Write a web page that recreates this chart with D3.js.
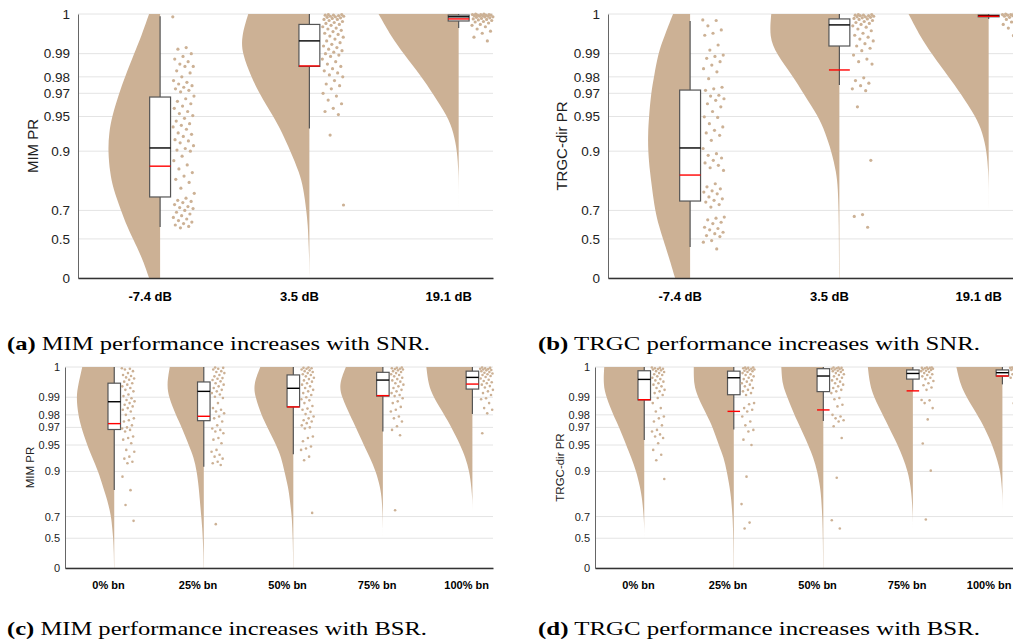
<!DOCTYPE html>
<html>
<head>
<meta charset="UTF-8">
<title>PR raincloud plots</title>
<script src="https://d3js.org/d3.v7.min.js"></script>
<style>
body { margin: 0; background: #fff; }
svg { display: block; font-family: 'Liberation Sans', Arimo, Arial, sans-serif; }
svg text { font-family: 'Liberation Sans', Arimo, Arial, sans-serif; }
svg text.cap { font-family: 'Liberation Serif', 'Times New Roman', serif; }
</style>
</head>
<body>
<svg id="fig" width="1013" height="639"></svg>
<script>
// ---- data ----
var snrCats = ["-7.4 dB", "3.5 dB", "19.1 dB"];
var bsrCats = ["0% bn", "25% bn", "50% bn", "75% bn", "100% bn"];
var prTicks = [0, 0.5, 0.7, 0.9, 0.95, 0.97, 0.98, 0.99, 1];
// PR values where the violin density is sampled
var densGrid = [0, 0.3, 0.5, 0.6, 0.7, 0.8, 0.85, 0.9, 0.93, 0.95, 0.97, 0.98, 0.99, 0.995, 1];

var mimSnrDens = [
  [11, 18, 27, 33, 39, 47, 50, 52, 51, 48, 41, 35, 26, 19, 11],
  [0, 0.2, 1, 1.5, 3, 6, 10, 19, 27, 36, 50, 58, 67, 68, 61],
  [0, 0, 0, 0, 0, 0, 0.2, 1.5, 5, 11, 26, 37, 55, 67, 80]
];
var trgcSnrDens = [
  [15, 21, 27, 31, 35, 38, 40, 42, 42, 41, 39, 36, 32, 26, 17],
  [0.3, 0.4, 0.5, 0.6, 0.8, 1.5, 3, 8, 14, 21, 36, 46, 63, 70, 68],
  [0, 0, 0, 0, 0, 0, 0.3, 2, 6, 13, 28, 40, 57, 68, 80]
];
var mimBsrDens = [
  [0.2, 0.4, 1, 2, 3, 7, 11, 16, 22, 27, 33, 36, 38, 36, 32],
  [0.2, 0.4, 1, 1.5, 2.5, 4, 5, 7, 10, 15, 22, 28, 35, 37, 34],
  [0.2, 0.3, 0.6, 1, 1.5, 3.5, 5, 9, 12, 17, 26, 32, 38, 40, 33],
  [0, 0, 0, 0, 0.2, 1, 2.5, 7, 13, 19, 27, 33, 41, 44, 37],
  [0, 0, 0, 0, 0, 0, 1, 3, 7, 12, 21, 28, 39, 44, 46]
];
var trgcBsrDens = [
  [0, 0, 0, 0, 0.5, 2, 4, 8, 13, 18, 25, 31, 38, 41, 40],
  [0.2, 0.3, 0.5, 0.8, 1.2, 2.5, 4, 7, 10, 15, 21, 27, 36, 40, 40],
  [0.2, 0.3, 0.5, 0.7, 1, 2, 3, 6, 10, 15, 23, 29, 36, 41, 42],
  [0, 0, 0, 0, 0, 1, 2, 5, 10, 15, 24, 30, 39, 43, 45],
  [0, 0, 0, 0, 0, 0, 0.5, 2, 6, 10, 18, 25, 36, 42, 46]
];

// box stats: [whisker low, q1, median, q3, whisker high, mean]
var mimSnrBox = [
  [0.596, 0.765, 0.906, 0.9673, 0.9996, 0.867],
  [0.936, 0.985, 0.994, 0.998, 1, 0.9852],
  [0.9972, 0.9987, 0.9995, 0.9998, 1, 0.9991]
];
var trgcSnrBox = [
  [0.4225, 0.747, 0.906, 0.9722, 0.9987, 0.843],
  [0.9754, 0.9925, 0.9979, 0.9991, 1, 0.9834],
  [0.9991, 0.9995, 0.9997, 0.9998, 1, 0.9996]
];
var mimBsrBox = [
  [0.842, 0.968, 0.9878, 0.9955, 1, 0.9733],
  [0.911, 0.9757, 0.9925, 0.9959, 1, 0.979],
  [0.9357, 0.985, 0.9937, 0.998, 1, 0.985],
  [0.966, 0.9905, 0.9965, 0.9987, 1, 0.9907],
  [0.9806, 0.9934, 0.9973, 0.999, 1, 0.9952]
];
var trgcBsrBox = [
  [0.9565, 0.9887, 0.9967, 0.9991, 1, 0.9888],
  [0.968, 0.9911, 0.9972, 0.999, 1, 0.9823],
  [0.9755, 0.9924, 0.9977, 0.9996, 1, 0.9832],
  [0.9928, 0.9968, 0.9984, 0.9993, 1, 0.9927],
  [0.9951, 0.9977, 0.9986, 0.9993, 1, 0.9977]
];

// individual runs (PR)
var mimSnrPts = [
  [0.9995, 0.992, 0.9915, 0.99, 0.989, 0.988, 0.987, 0.986, 0.985, 0.985, 0.983, 0.982, 0.98, 0.978, 0.977, 0.976, 0.975, 0.974, 0.973, 0.972, 0.971, 0.968, 0.966, 0.964, 0.962, 0.96, 0.958, 0.955, 0.953, 0.951, 0.948, 0.945, 0.942, 0.94, 0.938, 0.935, 0.93, 0.928, 0.925, 0.92, 0.918, 0.915, 0.91, 0.905, 0.902, 0.9, 0.89, 0.88, 0.87, 0.86, 0.85, 0.84, 0.83, 0.82, 0.8, 0.78, 0.76, 0.75, 0.745, 0.74, 0.73, 0.72, 0.715, 0.71, 0.7, 0.69, 0.68, 0.67, 0.66, 0.65, 0.64, 0.63, 0.62, 0.61, 0.6, 0.59],
  [0.9999, 0.9999, 0.9998, 0.9998, 0.9997, 0.9996, 0.9996, 0.9995, 0.9994, 0.9993, 0.9992, 0.999, 0.999, 0.9988, 0.9986, 0.9984, 0.9982, 0.998, 0.9978, 0.9975, 0.9972, 0.997, 0.9967, 0.9964, 0.996, 0.9957, 0.9953, 0.995, 0.9945, 0.994, 0.9935, 0.993, 0.9925, 0.992, 0.9915, 0.991, 0.9905, 0.99, 0.9895, 0.989, 0.988, 0.987, 0.986, 0.985, 0.984, 0.983, 0.982, 0.981, 0.98, 0.978, 0.976, 0.975, 0.973, 0.97, 0.968, 0.965, 0.962, 0.958, 0.955, 0.952, 0.927, 0.728],
  [1, 1, 0.9999, 0.9999, 0.9999, 0.9998, 0.9998, 0.9998, 0.9997, 0.9997, 0.9996, 0.9996, 0.9995, 0.9995, 0.9994, 0.9993, 0.9992, 0.9991, 0.999, 0.9989, 0.9988, 0.9986, 0.9985, 0.9983, 0.998, 0.9978, 0.9975, 0.997, 0.9965, 0.996, 0.995, 0.994]
];
var trgcSnrPts = [
  [0.9989, 0.9988, 0.9977, 0.9968, 0.996, 0.9955, 0.9928, 0.9912, 0.9895, 0.989, 0.9883, 0.987, 0.9856, 0.984, 0.9825, 0.979, 0.974, 0.973, 0.972, 0.9686, 0.968, 0.966, 0.9648, 0.962, 0.9593, 0.955, 0.9496, 0.949, 0.942, 0.938, 0.9336, 0.93, 0.9266, 0.919, 0.905, 0.895, 0.8917, 0.886, 0.881, 0.875, 0.869, 0.863, 0.856, 0.8155, 0.805, 0.7977, 0.79, 0.785, 0.778, 0.765, 0.757, 0.75, 0.742, 0.73, 0.7176, 0.6617, 0.655, 0.645, 0.629, 0.62, 0.594, 0.585, 0.575, 0.556, 0.545, 0.529, 0.52, 0.485, 0.47, 0.402],
  [0.9999, 0.9999, 0.9998, 0.9998, 0.9997, 0.9997, 0.9996, 0.9995, 0.9995, 0.9994, 0.9993, 0.9992, 0.9991, 0.999, 0.9988, 0.9986, 0.9984, 0.9982, 0.998, 0.9977, 0.9974, 0.997, 0.9966, 0.996, 0.9955, 0.995, 0.9945, 0.994, 0.9932, 0.9925, 0.9918, 0.991, 0.9895, 0.988, 0.987, 0.986, 0.9795, 0.978, 0.9765, 0.975, 0.973, 0.9718, 0.9593, 0.881, 0.677, 0.666, 0.594],
  [1, 1, 0.9999, 0.9999, 0.9999, 0.9998, 0.9998, 0.9997, 0.9997, 0.9996, 0.9995, 0.9994, 0.9993, 0.9992, 0.999, 0.9988, 0.9985, 0.998, 0.9973, 0.9972, 0.9955, 0.9954]
];
var mimBsrPts = [
  [0.9997, 0.9996, 0.9994, 0.999, 0.9985, 0.998, 0.9977, 0.9973, 0.997, 0.9966, 0.996, 0.9955, 0.995, 0.9944, 0.9938, 0.9931, 0.9925, 0.9912, 0.9905, 0.9895, 0.9887, 0.988, 0.9871, 0.9862, 0.9853, 0.9843, 0.9833, 0.9822, 0.98, 0.9775, 0.976, 0.975, 0.9718, 0.97, 0.969, 0.9676, 0.966, 0.9606, 0.959, 0.957, 0.9525, 0.9429, 0.94, 0.9317, 0.928, 0.922, 0.9187, 0.886, 0.841, 0.772, 0.668],
  [0.9999, 0.9998, 0.9996, 0.9994, 0.999, 0.9988, 0.9985, 0.998, 0.9976, 0.9971, 0.9969, 0.9965, 0.9961, 0.9955, 0.995, 0.9944, 0.9938, 0.9931, 0.9925, 0.9918, 0.9912, 0.9902, 0.9896, 0.9871, 0.9843, 0.9833, 0.9822, 0.981, 0.9788, 0.9775, 0.975, 0.9718, 0.969, 0.9676, 0.966, 0.9643, 0.959, 0.957, 0.9525, 0.9429, 0.94, 0.935, 0.9317, 0.928, 0.922, 0.9187, 0.915, 0.641],
  [0.9999, 0.9998, 0.9997, 0.9996, 0.9994, 0.9992, 0.999, 0.9988, 0.9985, 0.9982, 0.998, 0.9976, 0.9972, 0.9968, 0.9964, 0.996, 0.9955, 0.995, 0.9944, 0.9938, 0.9931, 0.9925, 0.9918, 0.991, 0.99, 0.989, 0.9885, 0.9871, 0.9855, 0.984, 0.9833, 0.982, 0.9805, 0.9788, 0.9775, 0.976, 0.975, 0.9737, 0.9718, 0.97, 0.969, 0.9606, 0.959, 0.955, 0.948, 0.945, 0.9429, 0.9317, 0.925, 0.725],
  [0.9999, 0.9998, 0.9997, 0.9996, 0.9995, 0.9994, 0.9992, 0.999, 0.9988, 0.9985, 0.9982, 0.998, 0.9976, 0.9972, 0.9968, 0.9964, 0.996, 0.9955, 0.995, 0.9944, 0.9938, 0.9931, 0.9925, 0.9918, 0.991, 0.9905, 0.9895, 0.988, 0.9871, 0.985, 0.9833, 0.9822, 0.9788, 0.9775, 0.975, 0.971, 0.9676, 0.962, 0.742],
  [0.9999, 0.9998, 0.9997, 0.9996, 0.9995, 0.9994, 0.9993, 0.9992, 0.999, 0.9988, 0.9986, 0.9984, 0.9982, 0.998, 0.9977, 0.9974, 0.997, 0.9966, 0.9962, 0.9958, 0.9955, 0.995, 0.9945, 0.994, 0.9931, 0.9925, 0.9918, 0.991, 0.9895, 0.989, 0.9871, 0.9843, 0.9833, 0.981, 0.9643]
];
var trgcBsrPts = [
  [0.9999, 0.9998, 0.9997, 0.9996, 0.9995, 0.9994, 0.9992, 0.999, 0.9988, 0.9985, 0.9982, 0.998, 0.9976, 0.9972, 0.9968, 0.9964, 0.996, 0.9955, 0.995, 0.9944, 0.9938, 0.9931, 0.9925, 0.9918, 0.991, 0.9896, 0.9871, 0.9843, 0.9822, 0.9788, 0.9775, 0.975, 0.9718, 0.9676, 0.966, 0.963, 0.9606, 0.959, 0.9525, 0.9429, 0.935, 0.925, 0.879],
  [0.9999, 0.9999, 0.9998, 0.9997, 0.9996, 0.9995, 0.9994, 0.9993, 0.9991, 0.999, 0.9988, 0.9985, 0.9982, 0.998, 0.9976, 0.9972, 0.9968, 0.9964, 0.996, 0.9955, 0.995, 0.9944, 0.9938, 0.9931, 0.9925, 0.9918, 0.991, 0.9871, 0.9865, 0.9843, 0.9833, 0.9822, 0.9788, 0.975, 0.9718, 0.9676, 0.966, 0.957, 0.95, 0.886, 0.777, 0.654, 0.602],
  [0.9999, 0.9999, 0.9998, 0.9997, 0.9996, 0.9995, 0.9994, 0.9993, 0.9991, 0.999, 0.9988, 0.9985, 0.9982, 0.998, 0.9976, 0.9972, 0.9968, 0.9964, 0.996, 0.9955, 0.995, 0.9944, 0.9938, 0.9931, 0.9925, 0.9918, 0.9896, 0.989, 0.9862, 0.9853, 0.98, 0.9788, 0.9775, 0.976, 0.975, 0.971, 0.959, 0.883, 0.672, 0.602],
  [0.9999, 0.9999, 0.9998, 0.9998, 0.9997, 0.9996, 0.9995, 0.9994, 0.9993, 0.9991, 0.999, 0.9988, 0.9985, 0.9982, 0.998, 0.9976, 0.9972, 0.9968, 0.9962, 0.9955, 0.9948, 0.994, 0.9931, 0.9887, 0.9885, 0.9871, 0.9843, 0.9767, 0.952, 0.902, 0.678],
  [0.9999, 0.9999, 0.9998, 0.9998, 0.9997, 0.9996, 0.9995, 0.9994, 0.9993, 0.9991, 0.999, 0.9988, 0.9985, 0.9982, 0.998, 0.9976, 0.9972, 0.9955, 0.987]
];

// ---- layout ----
var cloud = "#ccb195";
var svg = d3.select("#fig");
var figW = 1013;

// the PR axis is stretched near 1: position ~ -log10(1.01 - PR)
function tf(v) { return -Math.log10(1.01 - v); }

var panels = [
  { cats: snrCats, dens: mimSnrDens, box: mimSnrBox, pts: mimSnrPts, ylab: "MIM PR",
    tag: "(a)", cap: " MIM performance increases with SNR.",
    left: 78, right: 493, top: 14, bottom: 278, small: false, ylabX: 33, capX: 7, capY: 350, capW: 423 },
  { cats: snrCats, dens: trgcSnrDens, box: trgcSnrBox, pts: trgcSnrPts, ylab: "TRGC-dir PR",
    tag: "(b)", cap: " TRGC performance increases with SNR.",
    left: 608, right: 1023, top: 14, bottom: 278, small: false, ylabX: 562, capX: 538, capY: 350, capW: 442 },
  { cats: bsrCats, dens: mimBsrDens, box: mimBsrBox, pts: mimBsrPts, ylab: "MIM PR",
    tag: "(c)", cap: " MIM performance increases with BSR.",
    left: 65, right: 493, top: 367, bottom: 568, small: true, ylabX: 30, capX: 7, capY: 635, capW: 420 },
  { cats: bsrCats, dens: trgcBsrDens, box: trgcBsrBox, pts: trgcBsrPts, ylab: "TRGC-dir PR",
    tag: "(d)", cap: " TRGC performance increases with BSR.",
    left: 595, right: 1023, top: 367, bottom: 568, small: true, ylabX: 560, capX: 538, capY: 635, capW: 442 }
];

function drawPanel(p) {
  var g = svg.append("g");
  var n = p.cats.length;
  var x = d3.scaleLinear().domain([0.52, n + 0.3]).range([p.left, p.right]);
  var step = x(2) - x(1);
  var yT = d3.scaleLinear().domain([tf(0), tf(1)]).range([p.bottom, p.top]);
  var y = function(v) { return yT(tf(v)); };
  var w = d3.scaleLinear().domain([0, 100]).range([0, 100 * step / (p.small ? 89.5 : 149)]);
  var bw = 0.14 * step;

  // grid
  g.append("g").selectAll("line").data(prTicks).join("line")
    .attr("x1", p.left).attr("x2", p.right)
    .attr("y1", function(d) { return y(d); }).attr("y2", function(d) { return y(d); })
    .attr("stroke", "#e4e4e4").attr("stroke-width", 1);

  p.cats.forEach(function(c, i) {
    var cx = x(i + 1) + 0.07 * step;
    var b = p.box[i];

    var area = d3.area()
      .y(function(d, j) { return y(densGrid[j]); })
      .x0(function(d) { return cx - w(d); })
      .x1(cx)
      .curve(d3.curveBasis);
    g.append("path").datum(p.dens[i]).attr("d", area).attr("fill", cloud);

    g.append("line").attr("x1", cx).attr("x2", cx).attr("y1", y(b[0])).attr("y2", y(b[4]))
      .attr("stroke", "#555").attr("stroke-width", 1.2);
    g.append("rect").attr("x", cx - bw / 2).attr("width", bw)
      .attr("y", y(b[3])).attr("height", Math.max(1, y(b[1]) - y(b[3])))
      .attr("fill", "#fff").attr("stroke", "#555").attr("stroke-width", 1.2);
    g.append("line").attr("x1", cx - bw / 2).attr("x2", cx + bw / 2).attr("y1", y(b[2])).attr("y2", y(b[2]))
      .attr("stroke", "#000").attr("stroke-width", 1.4);
    g.append("line").attr("x1", cx - bw / 2).attr("x2", cx + bw / 2).attr("y1", y(b[5])).attr("y2", y(b[5]))
      .attr("stroke", "#f00").attr("stroke-width", 1.4);

    g.append("g").selectAll("circle").data(p.pts[i]).join("circle")
      .attr("cx", function(d, k) { return cx + step * (0.085 + 0.145 * ((k * 0.618034 + i * 0.29) % 1)); })
      .attr("cy", function(d) { return y(d); })
      .attr("r", p.small ? 1.3 : 1.6)
      .attr("fill", cloud);
  });

  // axes
  var ya = g.append("g").attr("transform", "translate(" + p.left + ",0)")
    .call(d3.axisLeft(yT).tickValues(prTicks.map(tf)).tickSize(0).tickPadding(p.small ? 5 : 8)
      .tickFormat(function(d, i) { return String(prTicks[i]); }));
  ya.attr("font-family", null);
  ya.select(".domain").attr("stroke", "#666");
  ya.selectAll("text").attr("font-size", p.small ? 11 : 13.5).attr("fill", "#222");

  var xa = g.append("g").attr("transform", "translate(0," + p.bottom + ")")
    .call(d3.axisBottom(x).tickValues(d3.range(1, n + 1)).tickSize(0).tickPadding(p.small ? 13 : 14)
      .tickFormat(function(d) { return p.cats[d - 1]; }));
  xa.attr("font-family", null);
  xa.select(".domain").attr("stroke", "#333").attr("stroke-width", 1.5);
  xa.selectAll("text").attr("font-size", p.small ? 11 : 13).attr("font-weight", "bold").attr("fill", "#000")
    .each(function(d) {
      // keep labels inside the figure edge
      var half = this.getComputedTextLength() / 2;
      var over = x(d) + half - (figW - 2);
      if (over > 0) d3.select(this).attr("x", -over);
    });

  g.append("text")
    .attr("transform", "translate(" + p.ylabX + "," + (p.top + p.bottom) / 2 + ") rotate(-90)")
    .attr("text-anchor", "middle").attr("dy", "0.35em")
    .attr("font-size", p.small ? 11.5 : 15).attr("fill", "#222")
    .text(p.ylab);

  var cap = svg.append("text").attr("class", "cap").attr("x", p.capX).attr("y", p.capY)
    .attr("font-size", 19).attr("fill", "#000")
    .attr("textLength", p.capW).attr("lengthAdjust", "spacingAndGlyphs");
  cap.append("tspan").attr("font-weight", "bold").text(p.tag);
  cap.append("tspan").text(p.cap);
}

panels.forEach(drawPanel);
</script>
</body>
</html>
